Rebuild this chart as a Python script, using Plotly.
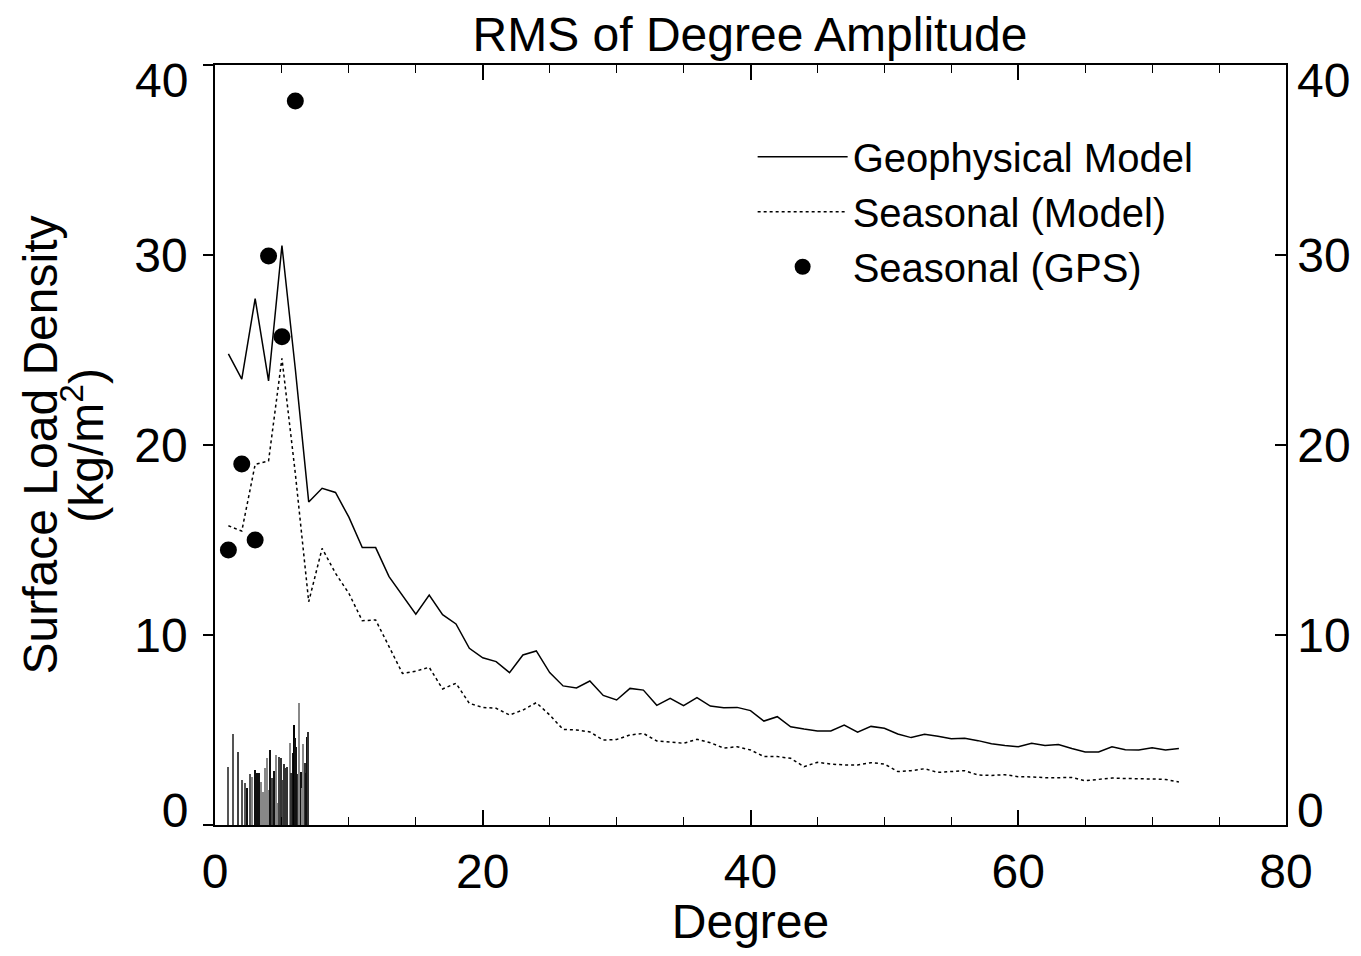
import plotly.graph_objects as go

# ---- data ----
degree = list(range(1, 73))
geophysical = [24.8, 23.47, 27.7, 23.37, 30.5, 24.0, 17.0, 17.72, 17.5, 16.2,
               14.6, 14.6, 13.07, 12.1, 11.1, 12.1, 11.07, 10.58, 9.3, 8.8,
               8.6, 8.02, 8.95, 9.16, 8.02, 7.32, 7.21, 7.58, 6.82, 6.58,
               7.19, 7.1, 6.3, 6.67, 6.28, 6.7, 6.26, 6.17, 6.19, 6.02,
               5.47, 5.7, 5.17, 5.05, 4.95, 4.95, 5.26, 4.88, 5.19, 5.09,
               4.79, 4.6, 4.77, 4.67, 4.54, 4.56, 4.44, 4.28, 4.18, 4.12,
               4.3, 4.19, 4.24, 4.03, 3.84, 3.84, 4.12, 3.96, 3.95, 4.07,
               3.95, 4.03]
seasonal_model = [15.75, 15.47, 18.98, 19.16, 24.56, 18.5, 11.75, 14.56, 13.25, 12.19,
                  10.75, 10.79, 9.39, 7.98, 8.1, 8.3, 7.16, 7.46, 6.4, 6.19,
                  6.14, 5.79, 6.05, 6.44, 5.79, 5.03, 5.0, 4.9, 4.47, 4.5,
                  4.74, 4.82, 4.42, 4.37, 4.3, 4.51, 4.33, 4.05, 4.12, 3.95,
                  3.6, 3.6, 3.51, 3.07, 3.3, 3.21, 3.16, 3.16, 3.28, 3.21,
                  2.81, 2.86, 2.96, 2.77, 2.81, 2.86, 2.63, 2.61, 2.65, 2.54,
                  2.53, 2.49, 2.49, 2.5, 2.33, 2.4, 2.47, 2.45, 2.45, 2.42,
                  2.4, 2.26]
gps_degree = [1, 2, 3, 4, 5, 6]
gps_seasonal = [14.47, 19.0, 15.0, 29.95, 25.7, 38.1]

spike_x = [0.995, 1.34, 1.69, 1.99, 2.24, 2.41, 2.61, 2.79, 2.99, 3.16,
           3.31, 3.48, 3.63, 3.76, 3.88, 4.0, 4.13, 4.25, 4.38, 4.55,
           4.65, 4.8, 4.93, 5.05, 5.17, 5.3, 5.42, 5.6, 5.72, 5.85,
           5.92, 6.02, 6.09, 6.22, 6.29, 6.42, 6.52, 6.59, 6.72, 6.79,
           6.87, 6.94]
spike_h = [3.07, 4.77, 3.86, 2.37, 2.19, 1.93, 2.68, 2.51, 2.89, 2.72,
           2.72, 2.25, 1.75, 2.98, 3.51, 1.84, 3.95, 2.49, 2.84, 3.68,
           1.14, 3.6, 3.51, 2.37, 3.19, 3.02, 3.07, 4.3, 2.72, 3.77,
           5.26, 4.56, 4.12, 2.67, 6.4, 2.81, 1.93, 4.24, 3.25, 2.72,
           4.65, 4.88]
spike_shade = ["#555555", "#555555", "#444444", "#555555", "#555555", "#111111", "#555555", "#888888", "#111111", "#111111",
               "#111111", "#888888", "#888888", "#888888", "#888888", "#888888", "#111111", "#444444", "#111111", "#888888",
               "#888888", "#444444", "#333333", "#444444", "#333333", "#333333", "#333333", "#888888", "#333333", "#111111",
               "#000000", "#111111", "#111111", "#333333", "#888888", "#111111", "#888888", "#888888", "#333333", "#111111",
               "#111111", "#333333"]

y_inner_ticks = [10, 20, 30]
y_end_ticks = [0, 40]
y_end_pos = [0.8, 39.2]          # end labels nudged inward, as in the original
y_end_text = ["0", "40"]
x_ticks = [0, 20, 40, 60, 80]

FONT = "Liberation Sans, Arial, Helvetica, sans-serif"
FS = 48

fig = go.Figure()

fig.add_trace(go.Bar(x=spike_x, y=spike_h, width=0.09,
                     marker=dict(color=spike_shade, line=dict(width=0)),
                     showlegend=False, hoverinfo="skip"))

fig.add_trace(go.Scatter(x=degree, y=geophysical, mode="lines",
                         name="Geophysical Model",
                         line=dict(color="black", width=1.5),
                         legendgroup="a"))
fig.add_trace(go.Scatter(x=degree, y=seasonal_model, mode="lines",
                         name="Seasonal (Model)",
                         line=dict(color="black", width=1.5, dash="dot"),
                         legendgroup="b"))
fig.add_trace(go.Scatter(x=gps_degree, y=gps_seasonal, mode="markers",
                         name="Seasonal (GPS)",
                         marker=dict(color="black", size=17, symbol="circle"),
                         xaxis="x2", yaxis="y2", cliponaxis=False,
                         legendgroup="c"))
# helper (empty) traces so the end-label axes get drawn
fig.add_trace(go.Scatter(x=[None], y=[None], yaxis="y3", showlegend=False, hoverinfo="skip"))
fig.add_trace(go.Scatter(x=[None], y=[None], yaxis="y4", showlegend=False, hoverinfo="skip"))

tickfont = dict(family=FONT, size=FS, color="black")
minor = dict(dtick=5, ticks="inside", ticklen=8, tickwidth=1.2, tickcolor="black")

fig.update_layout(
    width=1345, height=940,
    margin=dict(l=207, r=67, t=57, b=123, autoexpand=False),
    paper_bgcolor="white", plot_bgcolor="white",
    font=dict(family=FONT, color="black"),
    title=dict(text="RMS of Degree Amplitude", x=0.5517, xanchor="center",
               y=0.9725, yanchor="middle",
               font=dict(family=FONT, size=FS, color="black")),
    bargap=0,
    xaxis=dict(range=[0, 80], tickvals=x_ticks, ticks="inside", automargin=False,
               ticklen=15, tickwidth=1.5, tickcolor="black", minor=minor,
               showline=True, linecolor="black", linewidth=1.5,
               showgrid=False, zeroline=False, tickfont=tickfont,
               ticklabelstandoff=4,
               title=dict(text="Degree", font=dict(family=FONT, size=FS, color="black"), standoff=7)),
    xaxis2=dict(range=[0, 80], overlaying="x", side="top", anchor="y", automargin=False,
                tickvals=x_ticks, ticks="inside", ticklen=15, tickwidth=1.5,
                tickcolor="black", minor=minor,
                showline=True, linecolor="black", linewidth=1.5,
                showticklabels=False, showgrid=False, zeroline=False),
    yaxis=dict(range=[0, 40], tickvals=y_inner_ticks, ticks="outside",
               ticklen=10, tickwidth=1.5, tickcolor="black", automargin=False,
               minor=dict(tickvals=y_end_ticks, ticks="outside", ticklen=10,
                          tickwidth=1.5, tickcolor="black"),
               showline=True, linecolor="black", linewidth=1.5,
               showgrid=False, zeroline=False, tickfont=tickfont,
               ticklabelstandoff=6,
               title=dict(text="Surface Load Density",
                          font=dict(family=FONT, size=FS, color="black"), standoff=61)),
    yaxis3=dict(range=[0, 40], overlaying="y", side="left", anchor="x", automargin=False,
                tickvals=y_end_pos, ticktext=y_end_text, ticks="outside",
                ticklen=10, tickcolor="rgba(0,0,0,0)", ticklabelstandoff=6,
                showline=False, showgrid=False, zeroline=False, tickfont=tickfont),
    yaxis2=dict(range=[0, 40], overlaying="y", side="right", anchor="x", automargin=False,
                tickvals=y_inner_ticks, ticks="inside", ticklen=11,
                tickwidth=1.5, tickcolor="black", showline=True, linecolor="black",
                linewidth=1.5, showgrid=False, zeroline=False, tickfont=tickfont),
    yaxis4=dict(range=[0, 40], overlaying="y", side="right", anchor="x", automargin=False,
                tickvals=y_end_pos, ticktext=y_end_text, ticks="inside", ticklen=11,
                tickcolor="rgba(0,0,0,0)", showline=False, showgrid=False,
                ticklabelstandoff=10,
                zeroline=False, tickfont=tickfont),
    legend=dict(x=0.502, y=0.922, xanchor="left", yanchor="top",
                bgcolor="rgba(0,0,0,0)", borderwidth=0,
                font=dict(family=FONT, size=40, color="black"),
                itemwidth=90, tracegroupgap=0, traceorder="grouped"),
    annotations=[dict(text="(kg/m<sup>2</sup>)", xref="paper", yref="paper",
                      x=-0.1235, y=0.5, xanchor="center", yanchor="middle",
                      textangle=-90, showarrow=False,
                      font=dict(family=FONT, size=FS, color="black"))],
)

fig.write_html("out.html")
